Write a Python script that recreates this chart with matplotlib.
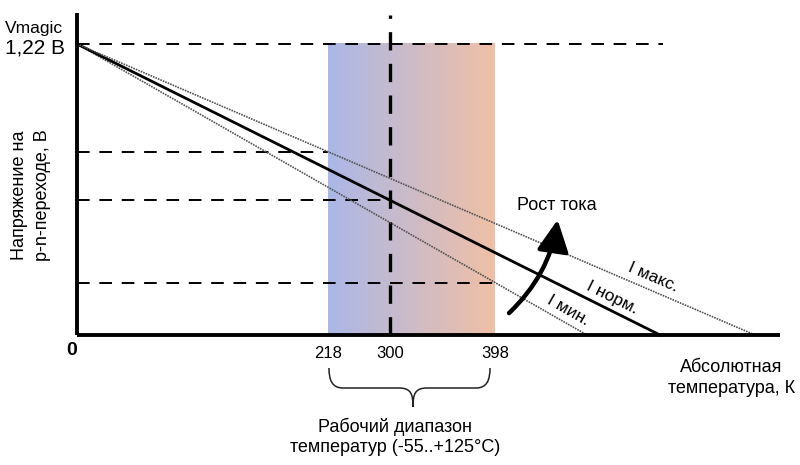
import numpy as np
import matplotlib
matplotlib.use('Agg')
import matplotlib.pyplot as plt
from matplotlib.patches import FancyArrowPatch, PathPatch
from matplotlib.path import Path

plt.rcParams['font.family'] = ['Liberation Sans', 'DejaVu Sans']

# ─────────────────────────────────────────────
# Схематичные данные (единицы схемы, ~пиксели)
# ─────────────────────────────────────────────
v_magic = 291                        # уровень Vmagic (1,22 В)
line_names = ['I мин.', 'I норм.', 'I макс.']
line_x_end = [510, 583, 678]         # где линии пересекают ось T
line_styles = ['dotted', 'solid', 'dotted']
label_x = [491, 535, 576]            # где стоят подписи линий

tick_pos = [251, 313, 418]           # положения меток на оси T
tick_labels = ['218', '300', '398']
band_lo, band_hi = 251, 418          # рабочий диапазон
x_max, y_max = 703, 322

def v_at(x, x_end):
    return v_magic * (1 - x / x_end)

fig = plt.figure(figsize=(8, 4.65), dpi=100)
ax = fig.add_axes([0, 0, 1, 1])
ax.set_xlim(-77, 723)
ax.set_ylim(-130, 335)
ax.axis('off')

# градиентная полоса рабочего диапазона
c_left = np.array([171, 183, 232]) / 255
c_right = np.array([240, 192, 166]) / 255
t = np.linspace(0, 1, 256)
grad = (c_left[None, :] * (1 - t[:, None]) + c_right[None, :] * t[:, None])[None, :, :]
ax.imshow(grad, extent=[band_lo, band_hi, 0, v_magic], aspect='auto', zorder=1)

# пунктирные уровни
dash_h = dict(color='black', lw=1.4, dashes=(6.5, 5), zorder=3)
ax.plot([0, 586], [v_magic, v_magic], **dash_h)
ax.plot([0, band_lo], [v_at(band_lo, line_x_end[2])] * 2, **dash_h)
ax.plot([0, tick_pos[1]], [v_at(tick_pos[1], line_x_end[1])] * 2, **dash_h)
ax.plot([0, band_hi], [v_at(band_hi, line_x_end[0])] * 2, **dash_h)
ax.plot([tick_pos[1], tick_pos[1]], [0, y_max - 2], color='black', lw=2.4,
        dashes=(5.5, 4), zorder=3)

# линии напряжения при разных токах
for xe, ls in zip(line_x_end, line_styles):
    if ls == 'solid':
        ax.plot([0, xe], [v_magic, 0], color='black', lw=2.0, zorder=4)
    else:
        ax.plot([0, xe], [v_magic, 0], color='#555555', lw=1.2,
                dashes=(1, 0.6), zorder=4)

# оси
ax.plot([0, 0], [0, y_max], color='black', lw=2.8, zorder=5, solid_capstyle='butt')
ax.plot([0, x_max], [0, 0], color='black', lw=2.8, zorder=5, solid_capstyle='butt')

# подписи линий
for name, xe, lx in zip(line_names, line_x_end, label_x):
    ang = np.degrees(np.arctan(v_magic / xe))
    ax.text(lx, v_at(lx, xe) + 13.5, name, rotation=-ang, rotation_mode='anchor',
            ha='center', va='center', fontsize=12.5, zorder=6)

# стрелка «Рост тока»
arr = FancyArrowPatch((430, 20), (481, 118), connectionstyle='arc3,rad=0.18',
                      arrowstyle='-|>,head_length=12,head_width=6',
                      mutation_scale=1.6, lw=3.2, color='black', zorder=6)
ax.add_patch(arr)
ax.text(440, 130, 'Рост тока', fontsize=13, ha='left', va='center', zorder=6)

# подписи осей
ax.text(-72, 307, 'Vmagic', fontsize=12.5, ha='left', va='center')
ax.text(-72, 287, '1,22 В', fontsize=15, ha='left', va='center')
ax.text(-46, 140, 'Напряжение на\np-n-переходе, В', fontsize=13, rotation=90,
        ha='center', va='center', linespacing=1.45)
ax.text(-5, -15, '0', fontsize=14, fontweight='bold', ha='center', va='center')
for p, l in zip(tick_pos, tick_labels):
    ax.text(p, -18, l, fontsize=12, ha='center', va='center')
ax.text(718, -43, 'Абсолютная\nтемпература, К', fontsize=13, ha='right',
        va='center', linespacing=1.3, multialignment='center')

# фигурная скобка
bl, br, bm = 252, 413, 336
y_top, y_mid, y_tip = -33, -53, -72
verts = [(bl, y_top), (bl, y_mid + 8), (bl + 3, y_mid), (bl + 14, y_mid),
         (bm - 14, y_mid), (bm - 2, y_mid), (bm, y_mid - 6), (bm, y_tip),
         (bm, y_mid - 6), (bm + 2, y_mid), (bm + 14, y_mid),
         (br - 14, y_mid), (br - 3, y_mid), (br, y_mid + 8), (br, y_top)]
codes = [Path.MOVETO, Path.CURVE4, Path.CURVE4, Path.CURVE4,
         Path.LINETO, Path.CURVE4, Path.CURVE4, Path.CURVE4,
         Path.CURVE4, Path.CURVE4, Path.CURVE4,
         Path.LINETO, Path.CURVE4, Path.CURVE4, Path.CURVE4]
ax.add_patch(PathPatch(Path(verts, codes), fill=False, lw=1.1, color='#222222'))

ax.text(318, -102, 'Рабочий диапазон\nтемператур (-55..+125°C)', fontsize=13,
        ha='center', va='center', linespacing=1.2)

fig.savefig('out.png', dpi=100)
